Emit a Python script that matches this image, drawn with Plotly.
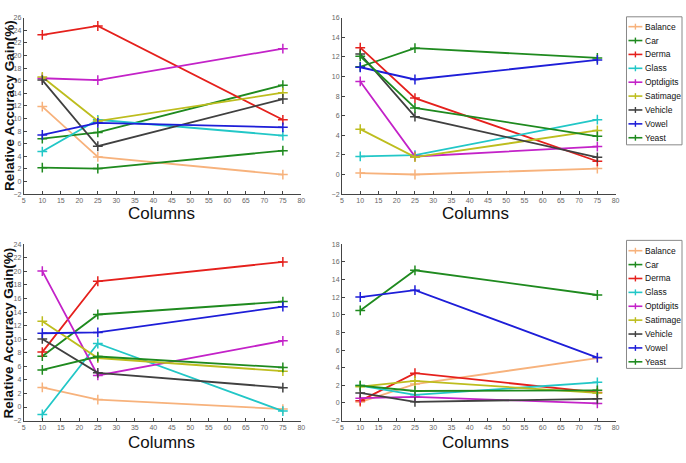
import plotly.graph_objects as go

columns = [10, 25, 75]
names = ["Balance", "Car", "Derma", "Glass", "Optdigits", "Satimage", "Vehicle", "Vowel", "Yeast"]
colors = ["#F7B27C", "#1F8A1F", "#E5201C", "#22C7C7", "#C322C8", "#BDBD1E", "#404040", "#1E1ED8", "#1F8A1F"]

# top-left panel
tl = {
    "Balance": [11.9, 3.9, 1.1],
    "Car": [6.8, 7.8, 15.3],
    "Derma": [23.3, 24.7, 9.8],
    "Glass": [4.75, 9.8, 7.3],
    "Optdigits": [16.4, 16.1, 21.1],
    "Satimage": [16.6, 9.6, 14.1],
    "Vehicle": [16.1, 5.6, 13.1],
    "Vowel": [7.4, 9.3, 8.6],
    "Yeast": [2.2, 2.05, 4.9],
}
# top-right panel
tr = {
    "Balance": [0.15, 0.0, 0.6],
    "Car": [11.0, 12.9, 11.9],
    "Derma": [12.95, 7.8, 1.35],
    "Glass": [1.84, 1.97, 5.6],
    "Optdigits": [9.5, 1.84, 2.85],
    "Satimage": [4.63, 1.77, 4.5],
    "Vehicle": [12.3, 5.9, 1.75],
    "Vowel": [10.95, 9.7, 11.7],
    "Yeast": [12.07, 6.8, 3.9],
}
# bottom-left panel
bl = {
    "Balance": [2.9, 1.1, -0.3],
    "Car": [7.5, 13.65, 15.55],
    "Derma": [8.1, 18.55, 21.4],
    "Glass": [-1.1, 9.37, -0.6],
    "Optdigits": [20.05, 4.66, 9.76],
    "Satimage": [12.67, 7.23, 5.29],
    "Vehicle": [10.05, 5.05, 2.86],
    "Vowel": [10.88, 11.0, 14.8],
    "Yeast": [5.48, 7.45, 5.85],
}
# bottom-right panel
br = {
    "Balance": [0.1, 2.15, 5.1],
    "Car": [10.5, 15.05, 12.25],
    "Derma": [0.24, 3.38, 1.2],
    "Glass": [1.97, 0.92, 2.34],
    "Optdigits": [0.54, 0.69, -0.05],
    "Satimage": [1.85, 2.5, 1.14],
    "Vehicle": [1.14, 0.13, 0.47],
    "Vowel": [12.02, 12.8, 5.15],
    "Yeast": [1.97, 1.36, 1.44],
}
y_ranges = [[-2, 26], [-2, 16], [-2, 24], [-2, 18]]
x_range = [5, 80]
x_title = "Columns"
y_title = "Relative Accuracy Gain(%)"

W, H = 686, 463
def fx(px):
    return px / W
def fy(py):
    return 1 - py / H

FONT = "Liberation Sans, Arial, sans-serif"
panels = [tl, tr, bl, br]
xdoms = [[fx(22), fx(302)], [fx(343), fx(619)], [fx(22), fx(302)], [fx(343), fx(619)]]
ydoms = [[fy(193), fy(14)], [fy(193), fy(14)], [fy(423), fy(244)], [fy(423), fy(244)]]

fig = go.Figure()
for i, panel in enumerate(panels):
    sfx = "" if i == 0 else str(i + 1)
    for n, c in zip(names, colors):
        fig.add_trace(go.Scatter(
            x=columns, y=panel[n], name=n, mode="lines+markers",
            line=dict(color=c, width=1.8),
            marker=dict(symbol="cross-thin", size=7, line=dict(color=c, width=1.5)),
            xaxis="x" + sfx, yaxis="y" + sfx, showlegend=False,
        ))

tickfont = dict(family=FONT, size=7, color="#666")
layout = dict(
    width=W, height=H, margin=dict(l=0, r=0, t=0, b=0),
    paper_bgcolor="white", plot_bgcolor="white", font=dict(family=FONT),
    showlegend=False,
)
for i in range(4):
    sfx = "" if i == 0 else str(i + 1)
    layout["xaxis" + sfx] = dict(
        domain=xdoms[i], range=x_range, dtick=5, tick0=5, anchor="y" + sfx,
        showgrid=False, zeroline=False, showline=True, linecolor="#444", linewidth=1,
        ticks="inside", ticklen=3, tickcolor="#444", tickfont=tickfont,
    )
    layout["yaxis" + sfx] = dict(
        domain=ydoms[i], range=y_ranges[i], dtick=2, anchor="x" + sfx,
        showgrid=False, zeroline=False, showline=True, linecolor="#444", linewidth=1,
        ticks="inside", ticklen=3, tickcolor="#444", tickfont=tickfont,
    )
fig.update_layout(**layout)

annots = []
shapes = []
for cx, cy in [(161, 213), (478, 213), (161, 445), (478, 445)]:
    annots.append(dict(text=x_title, x=fx(cx), y=fy(cy), xref="paper", yref="paper",
                       showarrow=False, xanchor="center", yanchor="middle",
                       font=dict(family=FONT, size=17, color="#111")))
for cy in [103, 334]:
    annots.append(dict(text="<b>" + y_title + "</b>", x=fx(7.5), y=fy(cy), xref="paper", yref="paper",
                       showarrow=False, xanchor="center", yanchor="middle", textangle=-90,
                       font=dict(family=FONT, size=13.5, color="#111")))

# legend boxes (drawn next to the right-hand panels)
for box_top, box_bottom, first_item in [(13, 143, 23), (240, 370, 250.5)]:
    shapes.append(dict(type="rect", xref="paper", yref="paper",
                       x0=fx(630), x1=fx(686), y0=fy(box_bottom), y1=fy(box_top),
                       line=dict(color="#888", width=1), fillcolor="white", layer="above"))
    step = 14.1
    for k, (n, c) in enumerate(zip(names, colors)):
        yy = first_item + k * step
        shapes.append(dict(type="line", xref="paper", yref="paper",
                           x0=fx(632), x1=fx(646), y0=fy(yy), y1=fy(yy),
                           line=dict(color=c, width=1.6), layer="above"))
        shapes.append(dict(type="line", xref="paper", yref="paper",
                           x0=fx(639), x1=fx(639), y0=fy(yy - 3), y1=fy(yy + 3),
                           line=dict(color=c, width=1.4), layer="above"))
        annots.append(dict(text=n, x=fx(646.5), y=fy(yy), xref="paper", yref="paper",
                           showarrow=False, xanchor="left", yanchor="middle",
                           font=dict(family=FONT, size=8.5, color="#111")))
fig.update_layout(annotations=annots, shapes=shapes)

fig.write_html("out.html")
